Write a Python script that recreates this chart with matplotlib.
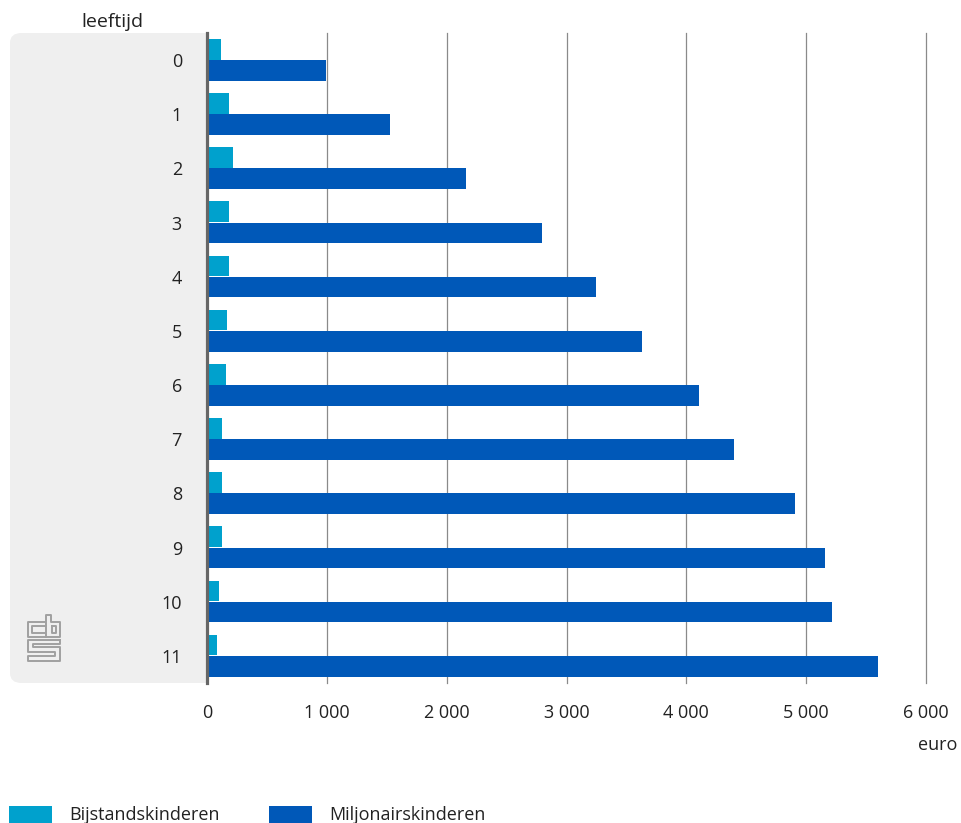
import matplotlib
matplotlib.use("Agg")
import matplotlib.pyplot as plt
from matplotlib.patches import FancyBboxPatch, Rectangle
from matplotlib.lines import Line2D
import numpy as np

ages = ["0", "1", "2", "3", "4", "5", "6", "7", "8", "9", "10", "11"]
bijstand = [117, 184, 217, 184, 184, 167, 159, 125, 125, 125, 100, 83]
miljonair = [995, 1528, 2162, 2796, 3247, 3631, 4107, 4399, 4908, 5159, 5217, 5601]
xticks = [0, 1000, 2000, 3000, 4000, 5000, 6000]
xticklabels = ["0", "1 000", "2 000", "3 000", "4 000", "5 000", "6 000"]
series_names = ["Bijstandskinderen", "Miljonairskinderen"]
colors = ["#00a1cd", "#0058b8"]

plt.rcParams['font.family'] = ['Open Sans', 'DejaVu Sans']
W, H = 961, 823
fig = plt.figure(figsize=(W / 100, H / 100), dpi=100)
txt = "#222222"

def fx(px):
    return px / W

def fy(py):
    return 1 - py / H

# grey panel behind the category labels
panel = FancyBboxPatch((fx(10), fy(683)), fx(230) - fx(10), fy(33) - fy(683),
                       boxstyle="round,pad=0,rounding_size=0.012",
                       transform=fig.transFigure, facecolor="#efefef",
                       edgecolor="none", zorder=-5)
fig.patches.append(panel)

ax = fig.add_axes([fx(207), fy(683), fx(926) - fx(207), fy(33) - fy(683)])
ax.set_zorder(1)
ax.set_facecolor("white")

y = np.arange(len(ages))
h = 0.38
ax.barh(y - 0.2, bijstand, height=h, color=colors[0], zorder=3, label=series_names[0])
ax.barh(y + 0.19, miljonair, height=h, color=colors[1], zorder=3, label=series_names[1])

ax.set_xlim(0, 6000)
ax.set_ylim(11.5, -0.5)
ax.set_yticks(y)
ax.set_yticklabels(ages)
ax.set_xticks(xticks)
ax.set_xticklabels(xticklabels)
ax.tick_params(axis="both", length=0, labelsize=13, colors=txt)
ax.tick_params(axis="y", pad=18)
ax.tick_params(axis="x", pad=15)

for xv in xticks[1:]:
    ax.axvline(xv, color="#8a8a8a", linewidth=0.9, zorder=1, clip_on=False)
ax.axvline(0, color="#666666", linewidth=2.3, zorder=4, clip_on=False)

for s in ax.spines.values():
    s.set_visible(False)

fig.text(fx(112), fy(22), "leeftijd", ha="center", va="center", fontsize=14, color=txt)
fig.text(fx(957), fy(745), "euro", ha="right", va="center", fontsize=13, color=txt)

# legend
for i, (name, c) in enumerate(zip(series_names, colors)):
    x0 = [9, 269][i]
    fig.patches.append(Rectangle((fx(x0), fy(823)), fx(43), fy(806) - fy(823),
                                 transform=fig.transFigure, facecolor=c, edgecolor="none"))
    fig.text(fx(x0 + 60), fy(815), name, ha="left", va="center", fontsize=13, color=txt)

# simplified cbs logo
lg = "#a0a0a0"
paths = [
    # c
    [(45, 622), (28, 622), (28, 637), (45, 637)],
    [(45, 626), (32, 626), (32, 633), (45, 633)],
    # b
    [(46, 637), (46, 615), (51, 615), (51, 622), (60, 622), (60, 637), (46, 637)],
    [(52, 626), (56, 626), (56, 633), (52, 633), (52, 626)],
    # s
    [(60, 640), (28, 640), (28, 652), (55, 652), (55, 656), (28, 656), (28, 661), (60, 661),
     (60, 647), (33, 647), (33, 644), (60, 644), (60, 640)],
]
for p in paths:
    xs = [fx(a) for a, b in p]
    ys = [fy(b) for a, b in p]
    fig.add_artist(Line2D(xs, ys, transform=fig.transFigure, color=lg, linewidth=1.4, zorder=-4))

fig.savefig("out.png", dpi=100)
